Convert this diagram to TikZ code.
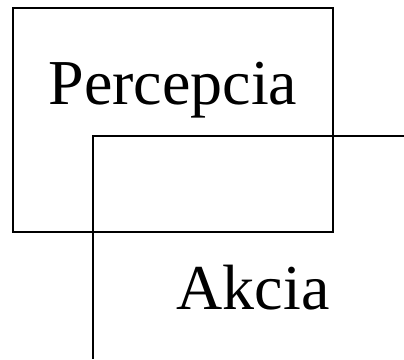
\documentclass[tikz,border=0pt]{standalone}
\usepackage{fontspec}
\setmainfont{Liberation Serif}
\usepackage{tikz}

\tikzset{frame/.style={line width=2pt}, big/.style={font=\fontsize{64}{70}\selectfont, inner sep=0pt, anchor=base}}

\begin{document}
\begin{tikzpicture}[x=1pt, y=-1pt]
\useasboundingbox (0,0) rectangle (404,359);
% box round the upper word
\draw[frame] (13,8) rectangle (333,232);
% open corner for the lower word
\coordinate (corner) at (93,136);
\coordinate (right) at (404,136);
\coordinate (down) at (93,359);
\draw[frame] (right) -- (corner) -- (down);
\node[big] (percepcia) at (173,104) {Percepcia};
\node[big] (akcia) at (253,309) {Akcia};
\end{tikzpicture}
\end{document}
